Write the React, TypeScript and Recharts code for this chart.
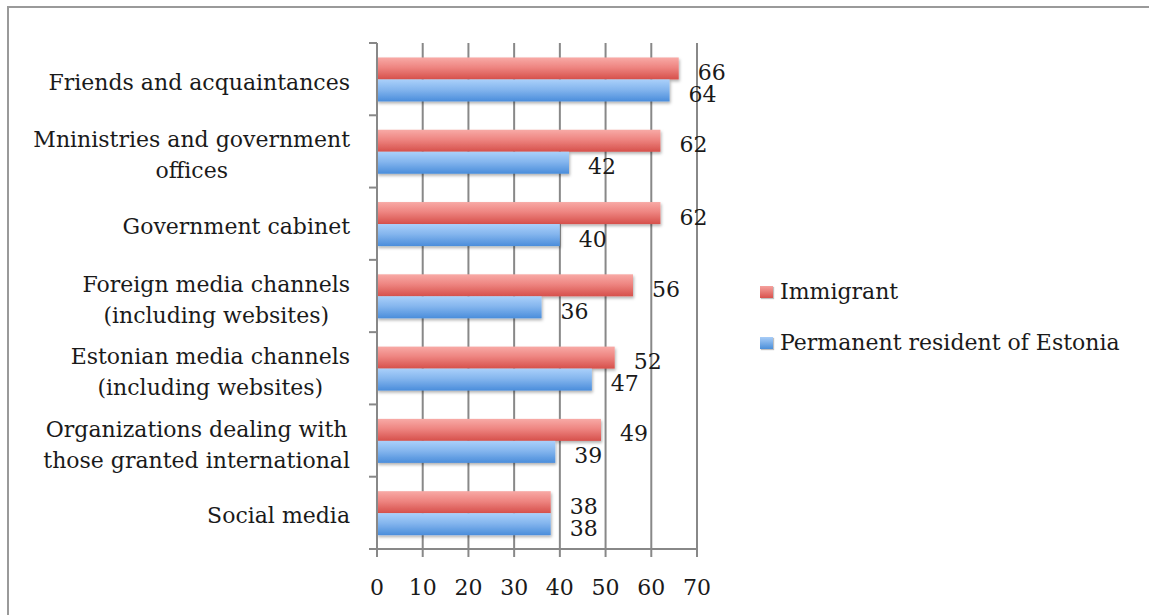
import React from 'react';
import { BarChart, Bar, XAxis, YAxis, CartesianGrid, LabelList } from 'recharts';

const categories = [
  'Friends and acquaintances',
  'Mninistries and government offices',
  'Government cabinet',
  'Foreign media channels (including websites)',
  'Estonian media channels (including websites)',
  'Organizations dealing with those granted international',
  'Social media',
];

const categoryLabelLines = [
  ['Friends and acquaintances'],
  ['Mninistries and government', 'offices'],
  ['Government cabinet'],
  ['Foreign media channels', '(including websites)'],
  ['Estonian media channels', '(including websites)'],
  ['Organizations dealing with', 'those granted international'],
  ['Social media'],
];

const immigrant = [66, 62, 62, 56, 52, 49, 38];
const permanent = [64, 42, 40, 36, 47, 39, 38];

const xTicks = [0, 10, 20, 30, 40, 50, 60, 70];

const seriesNames = ['Immigrant', 'Permanent resident of Estonia'];

const data = categories.map((c, i) => ({
  name: c,
  immigrant: immigrant[i],
  permanent: permanent[i],
}));

const W = 1149;
const H = 615;
const MARGIN = { top: 43, right: 452, bottom: 0, left: 0 };
const Y_AXIS_W = 377;
const X_AXIS_H = 66;
const PLOT_H = H - MARGIN.top - MARGIN.bottom - X_AXIS_H;
const FONT = '"DejaVu Serif", serif';
const FONT_SIZE = 22;
const TEXT_COLOR = '#1a1a1a';
const AXIS_COLOR = '#888888';

let measureCtx: CanvasRenderingContext2D | null = null;
function textWidth(s: string): number {
  if (typeof document === 'undefined') return s.length * 12;
  if (!measureCtx) measureCtx = document.createElement('canvas').getContext('2d');
  if (!measureCtx) return s.length * 12;
  measureCtx.font = `${FONT_SIZE}px "DejaVu Serif"`;
  return measureCtx.measureText(s).width;
}

const CategoryTick = (props: any) => {
  const { x, y, index } = props;
  const lines = categoryLabelLines[index] || [];
  const band = PLOT_H / categories.length;
  const maxW = Math.max(...lines.map(textWidth));
  const rightEdge = x - 27;
  const cx = rightEdge - maxW / 2;
  const lineH = 31;
  const shift = lines.length > 1 ? 4 : 3;
  const startY = y + shift - ((lines.length - 1) * lineH) / 2;
  return (
    <g>
      <line x1={x - 8} x2={x} y1={y - band / 2} y2={y - band / 2} stroke={AXIS_COLOR} strokeWidth={2} />
      {index === categories.length - 1 && (
        <line x1={x - 8} x2={x} y1={y + band / 2} y2={y + band / 2} stroke={AXIS_COLOR} strokeWidth={2} />
      )}
      <text
        x={cx}
        y={startY}
        textAnchor="middle"
        fontFamily={FONT}
        fontSize={FONT_SIZE}
        fill={TEXT_COLOR}
      >
        {lines.map((l: string, i: number) => (
          <tspan key={i} x={cx} y={startY + i * lineH} dominantBaseline="central">
            {l}
          </tspan>
        ))}
      </text>
    </g>
  );
};

const ValueLabel = (props: any) => {
  const { x, y, width, height, value } = props;
  return (
    <text
      x={Number(x) + Number(width) + 19}
      y={Number(y) + Number(height) / 2 + 4}
      dominantBaseline="central"
      textAnchor="start"
      fontFamily={FONT}
      fontSize={FONT_SIZE}
      fill={TEXT_COLOR}
    >
      {value}
    </text>
  );
};

const ShadowBar = (props: any) => {
  const { x, y, width, height, fill } = props;
  if (!width || width <= 0) return null;
  return <rect x={x} y={y} width={width} height={height} fill={fill} filter="url(#barShadow)" />;
};

const legendColors = [
  'linear-gradient(#f5a19d, #d9524d)',
  'linear-gradient(#a9cdf7, #4b8fd9)',
];

export default function App() {
  return (
    <div
      style={{
        position: 'absolute',
        left: 0,
        top: 0,
        width: W,
        height: H,
        overflow: 'hidden',
        background: '#ffffff',
      }}
    >
      <div
        style={{
          position: 'absolute',
          left: 7,
          top: 6,
          width: 1300,
          height: 800,
          borderTop: '2px solid #9a9a9a',
          borderLeft: '2px solid #9a9a9a',
        }}
      />
      <div style={{ position: 'absolute', left: 0, top: 0 }}>
        <BarChart
          width={W}
          height={H}
          data={data}
          layout="vertical"
          margin={MARGIN}
          barCategoryGap="20%"
          barGap={0}
        >
          <defs>
            <linearGradient id="gradRed" x1="0" y1="0" x2="0" y2="1">
              <stop offset="0%" stopColor="#f8aaa6" />
              <stop offset="45%" stopColor="#ee8581" />
              <stop offset="100%" stopColor="#d6504b" />
            </linearGradient>
            <linearGradient id="gradBlue" x1="0" y1="0" x2="0" y2="1">
              <stop offset="0%" stopColor="#aad0fa" />
              <stop offset="45%" stopColor="#85b6ee" />
              <stop offset="100%" stopColor="#4a8ddb" />
            </linearGradient>
            <filter id="barShadow" x="-5%" y="-20%" width="115%" height="160%">
              <feDropShadow dx="1" dy="2" stdDeviation="1.5" floodColor="#000" floodOpacity="0.3" />
            </filter>
          </defs>
          <CartesianGrid horizontal={false} vertical stroke={AXIS_COLOR} strokeWidth={2} />
          <XAxis
            type="number"
            domain={[0, 70]}
            ticks={xTicks}
            interval={0}
            height={X_AXIS_H}
            axisLine={{ stroke: AXIS_COLOR, strokeWidth: 2 }}
            tickLine={{ stroke: AXIS_COLOR, strokeWidth: 2 }}
            tickSize={8}
            tickMargin={22}
            tick={{ fontFamily: FONT, fontSize: FONT_SIZE, fill: TEXT_COLOR }}
          />
          <YAxis
            type="category"
            dataKey="name"
            width={Y_AXIS_W}
            axisLine={{ stroke: AXIS_COLOR, strokeWidth: 2 }}
            tickLine={false}
            tickSize={0}
            tickMargin={0}
            interval={0}
            tick={<CategoryTick />}
          />
          <Bar
            dataKey="immigrant"
            name={seriesNames[0]}
            fill="url(#gradRed)"
            isAnimationActive={false}
            shape={<ShadowBar />}
          >
            <LabelList dataKey="immigrant" content={<ValueLabel />} />
          </Bar>
          <Bar
            dataKey="permanent"
            name={seriesNames[1]}
            fill="url(#gradBlue)"
            isAnimationActive={false}
            shape={<ShadowBar />}
          >
            <LabelList dataKey="permanent" content={<ValueLabel />} />
          </Bar>
        </BarChart>
      </div>
      <div
        style={{
          position: 'absolute',
          left: 760,
          top: 276,
          fontFamily: FONT,
          fontSize: FONT_SIZE,
          color: TEXT_COLOR,
          lineHeight: '32px',
        }}
      >
        {seriesNames.map((n, i) => (
          <div key={n} style={{ display: 'flex', alignItems: 'center', height: 32, marginBottom: i === 0 ? 19 : 0 }}>
            <span
              style={{
                display: 'inline-block',
                width: 13,
                height: 12,
                background: legendColors[i],
                marginRight: 7,
                boxShadow: '1px 1px 1px rgba(0,0,0,0.25)',
              }}
            />
            <span>{n}</span>
          </div>
        ))}
      </div>
    </div>
  );
}
